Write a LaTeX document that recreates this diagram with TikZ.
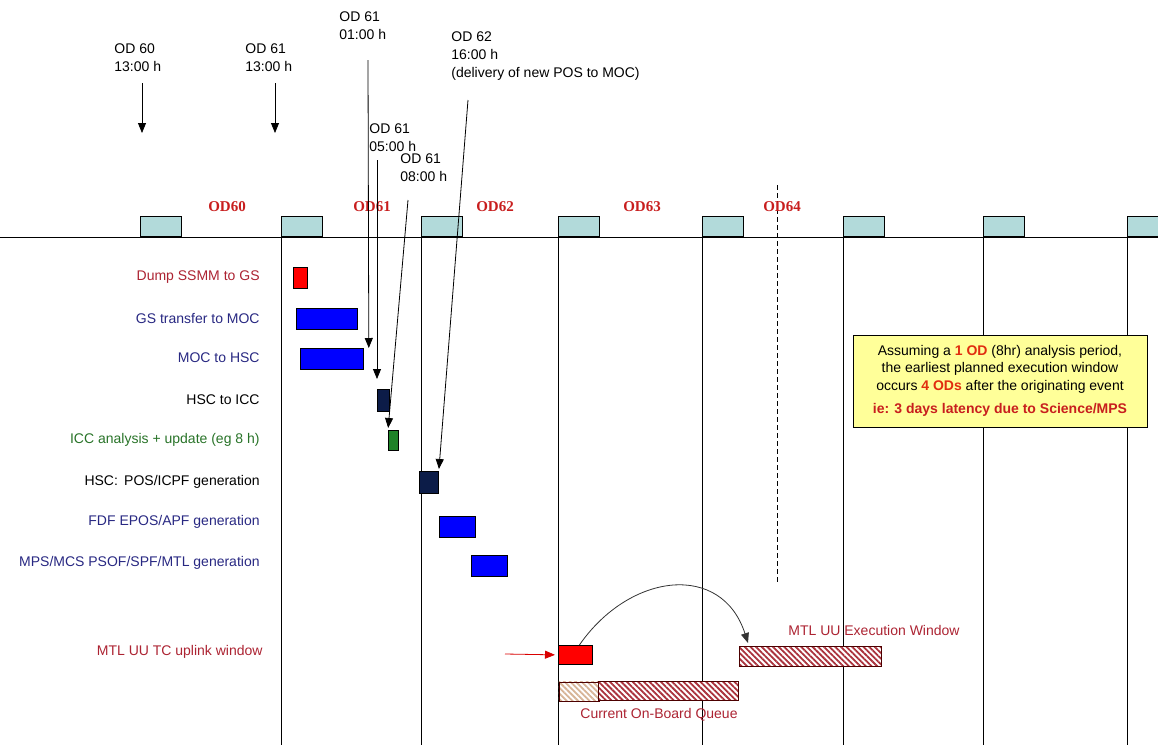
\documentclass[tikz,border=0pt]{standalone}
\usepackage{fontspec}
\setmainfont{Liberation Sans}
\newfontfamily\odfont{Liberation Serif}
\usepackage{xcolor}
\usepackage{tikz}
\usetikzlibrary{arrows.meta}
\usetikzlibrary{patterns.meta}

\definecolor{odred}{RGB}{200,30,30}
\definecolor{lblred}{RGB}{172,35,50}
\definecolor{lblnavy}{RGB}{40,40,130}
\definecolor{lblgreen}{RGB}{40,115,40}
\definecolor{barnavy}{RGB}{12,28,72}
\definecolor{bargreen}{RGB}{30,130,40}
\definecolor{slotcyan}{RGB}{178,218,218}
\definecolor{notebg}{RGB}{255,255,153}
\definecolor{hiorange}{RGB}{225,45,15}
\definecolor{hatchred}{RGB}{170,50,60}
\definecolor{hatchpale}{RGB}{215,180,150}

\begin{document}
\begin{tikzpicture}
      [
        x=0.5pt,y=-0.5pt,
        every node/.style={font=\fontsize{7}{9}\selectfont},
        slot/.style={draw,fill=slotcyan,minimum width=20.5pt,minimum height=10pt,inner sep=0,anchor=south west},
        bar/.style={draw,inner sep=0,anchor=north west},
        row/.style={anchor=east,inner sep=0},
        note/.style={align=left,anchor=north west,inner sep=0},
        od/.style={font=\odfont\bfseries\fontsize{7.5}{9}\selectfont,text=odred},
        arr/.style={-{Triangle[length=5pt,width=4pt]}},
        hatch/.style={draw=black!70!red,preaction={fill=white},pattern={Lines[angle=-45,distance=2pt,line width=0.9pt]},pattern color=#1}
      ]

      \useasboundingbox (0,0) rectangle (1158,745);

      % time line and orbit slots
      \draw (0,237) -- (1158,237);
      \foreach \x [count=\i] in {140,281,421,558,702,843,983,1127}
        \node[slot] (s\i) at (\x,237) {};
      \foreach \i in {2,...,8}
        \draw (s\i.south west) -- ++(0,508);
      \draw[dash pattern=on 2.5pt off 1.5pt] (777,185) -- (777,582);

      \node[od] (OD60) at (227,207) {OD60};
      \node[od] (OD61) at (372,207) {OD61};
      \node[od] (OD62) at (495,207) {OD62};
      \node[od] (OD63) at (642,207) {OD63};
      \node[od] (OD64) at (782,207) {OD64};

      % events
      \node[note] (T60) at (114,43) {OD 60\\13:00 h};
      \node[note] (T61b) at (245,43) {OD 61\\13:00 h};
      \node[note] (T61a) at (339,11) {OD 61\\01:00 h};
      \node[note] (T62) at (451,31) {OD 62\\16:00 h\\(delivery of new POS to MOC)};
      \node[note] (T61c) at (369,123) {OD 61\\05:00 h};
      \node[note] (T61d) at (400,153) {OD 61\\08:00 h};

      % activities
      \node[row,text=lblred] (LDump) at (260,277) {Dump SSMM to GS};
      \node[row,text=lblnavy] (LGs) at (260,318) {GS transfer to MOC};
      \node[row,text=lblnavy] (LMoc) at (260,358) {MOC to HSC};
      \node[row] (LIcc) at (260,400) {HSC to ICC};
      \node[row,text=lblgreen] (LAna) at (260,440) {ICC analysis + update (eg 8 h)};
      \node[row] (LPos) at (260,482) {HSC:\, POS/ICPF generation};
      \node[row,text=lblnavy] (LFdf) at (260,522) {FDF EPOS/APF generation};
      \node[row,text=lblnavy] (LMps) at (260,563) {MPS/MCS PSOF/SPF/MTL generation};
      \node[row,text=lblred] (LUp) at (263,652) {MTL UU TC uplink window};

      \node[bar,fill=red,minimum width=7pt,minimum height=10.5pt] (Dump) at (293,267) {};
      \node[bar,fill=blue,minimum width=30.5pt,minimum height=10.5pt] (Gs) at (296,308) {};
      \node[bar,fill=blue,minimum width=31.5pt,minimum height=10.5pt] (Moc) at (300,348) {};
      \node[bar,fill=barnavy,minimum width=6pt,minimum height=11pt] (Icc) at (377,389) {};
      \node[bar,fill=bargreen,minimum width=5pt,minimum height=10pt] (Ana) at (388,430) {};
      \node[bar,fill=barnavy,minimum width=9.5pt,minimum height=11pt] (Pos) at (419,471) {};
      \node[bar,fill=blue,minimum width=18pt,minimum height=10.5pt] (Fdf) at (439,516) {};
      \node[bar,fill=blue,minimum width=18pt,minimum height=10.5pt] (Mps) at (471,555) {};

      \node[bar,fill=red,minimum width=17pt,minimum height=9.5pt] (Up) at (558,645) {};
      \node[bar,hatch=hatchpale,minimum width=20pt,minimum height=9.5pt] (Old) at (558,681) {};
      \node[bar,hatch=hatchred,minimum width=70pt,minimum height=9.5pt] (Queue) at (598,681) {};
      \node[bar,hatch=hatchred,minimum width=71pt,minimum height=10pt] (Exec) at (739,646) {};
      \node[anchor=west,inner sep=0,text=lblred] (LQueue) at (580,715) {Current On-Board Queue};
      \node[anchor=west,inner sep=0,text=lblred] (LExec) at (788,630) {MTL UU Execution Window};

      \node[draw,fill=notebg,minimum width=147pt,minimum height=46pt,align=center,
            font=\fontsize{7}{8.75}\selectfont] (Note) at (1000,381)
        {Assuming a \textbf{\color{hiorange}1 OD} (8hr) analysis period,\\
         the earliest planned execution window\\
         occurs \textbf{\color{hiorange}4 ODs} after the originating event\\[3pt]
         \textbf{\color{odred}ie: 3 days latency due to Science/MPS}};

      % arrows
      \coordinate (A60) at (142,83);
      \coordinate (A61b) at (275,83);
      \coordinate (A61a) at (368,60);
      \coordinate (A61c) at (377,160);
      \coordinate (A61d) at (408,200);
      \coordinate (A62) at (468,100);
      \coordinate (ARed) at (505,654);

      \draw[arr] (A60) -- ++(0,50);
      \draw[arr] (A61b) -- ++(0,50);
      \draw[arr] (A61a) -- ([xshift=2.5pt]Moc.north east);
      \draw[arr,shorten >=5pt] (A61c) -- (Icc.north west);
      \draw[arr,shorten >=1pt] (A61d) -- (Ana.north west);
      \draw[arr,shorten >=1pt] (A62) -- (Pos.north east);
      \draw[arr,red!85!black,shorten >=1.5pt] (ARed) -- (Up.west);
      \draw[arr,black!80] ([xshift=2pt]Up.north) .. controls (630,572) and (722,562) .. ([xshift=4.5pt,yshift=1.5pt]Exec.north west);
    \end{tikzpicture}
\end{document}
